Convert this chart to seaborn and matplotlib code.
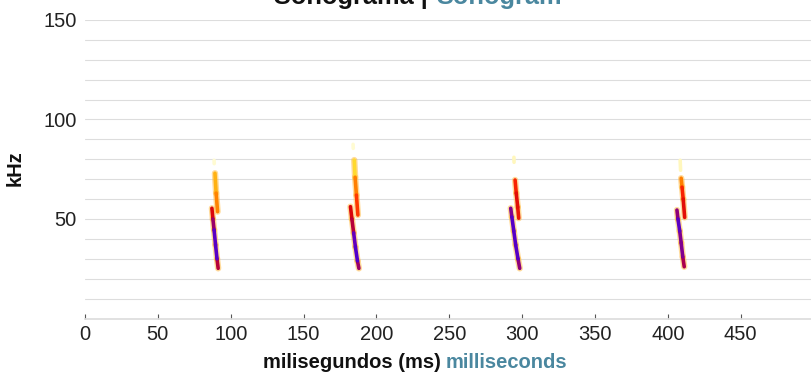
import pandas as pd
import matplotlib.pyplot as plt
import seaborn as sns
from matplotlib.colors import LinearSegmentedColormap

# trazos del sonograma: punto a punto (segmento, ms, kHz, nivel 0=débil .. 1=fuerte)
seg_id = (['c1t'] * 2 + ['c1h'] * 3 + ['c1f'] * 6 +
          ['c2t'] * 2 + ['c2h'] * 4 + ['c2f'] * 6 +
          ['c3t'] * 2 + ['c3h'] * 4 + ['c3f'] * 6 +
          ['c4t'] * 2 + ['c4h'] * 4 + ['c4f'] * 6)
seg_ms = [88.6, 88.7, 89.2, 90.0, 91.0, 87.1, 87.8, 88.6, 89.6, 90.6, 91.4,
          184.0, 184.1, 184.8, 185.4, 186.3, 187.3, 182.2, 183.2, 184.4, 185.6, 187.0, 188.0,
          294.4, 294.5, 295.2, 296.0, 297.0, 297.7, 292.2, 293.0, 294.3, 295.6, 297.2, 298.4,
          408.5, 408.8, 409.2, 409.8, 410.6, 411.6, 406.3, 407.0, 408.2, 409.2, 410.3, 411.3]
seg_khz = [79.5, 77.8, 73.0, 63.0, 53.7, 55.4, 50.0, 44.5, 37.0, 30.0, 25.2,
           87.5, 85.5, 79.6, 71.0, 62.0, 52.0, 56.2, 50.0, 43.0, 36.0, 29.0, 25.2,
           81.0, 78.5, 69.6, 63.0, 56.0, 50.4, 55.4, 51.0, 44.0, 37.0, 30.0, 25.2,
           79.5, 74.5, 70.5, 66.0, 60.0, 50.8, 54.5, 50.0, 44.0, 38.0, 31.0, 26.0]
seg_lvl = [0.0, 0.0, 0.2, 0.3, 0.38, 0.6, 0.65, 0.85, 0.95, 0.9, 0.5,
           0.0, 0.0, 0.08, 0.25, 0.45, 0.5, 0.62, 0.65, 0.75, 0.95, 0.95, 0.55,
           0.02, 0.02, 0.45, 0.6, 0.6, 0.55, 0.7, 0.9, 0.95, 0.9, 0.95, 0.6,
           0.02, 0.02, 0.25, 0.45, 0.6, 0.6, 0.65, 0.9, 0.9, 0.7, 0.9, 0.55]

x_ticks = list(range(0, 500, 50))
y_ticks = [50, 100, 150]
y_minor = [10, 20, 30, 40, 60, 70, 80, 90, 110, 120, 130, 140]

TEAL = '#4a879f'

df = pd.DataFrame({'seg': seg_id, 'ms': seg_ms, 'khz': seg_khz, 'lvl': seg_lvl})

# cada par de puntos consecutivos -> un tramo con su propio color
rows = []
piece = 0
for s, g in df.groupby('seg', sort=False):
    g = g.reset_index(drop=True)
    for i in range(len(g) - 1):
        lv = (g.lvl[i] + g.lvl[i + 1]) / 2
        rows.append((piece, g.ms[i], g.khz[i], lv))
        rows.append((piece, g.ms[i + 1], g.khz[i + 1], lv))
        piece += 1
pieces = pd.DataFrame(rows, columns=['piece', 'ms', 'khz', 'lvl'])

cmap = LinearSegmentedColormap.from_list('sono', [
    (0.0, '#fffbd2'), (0.15, '#ffe033'), (0.3, '#ff9a00'), (0.5, '#ff2a00'),
    (0.65, '#d4000c'), (0.85, '#6400bc'), (1.0, '#4800d0')])

sns.set_theme(style='white')
plt.rcParams['font.family'] = ['Liberation Sans', 'DejaVu Sans']

fig = plt.figure(figsize=(8.12, 3.75), dpi=100)
ax = fig.add_axes([85 / 812, 56.5 / 375, 727 / 812, 298.5 / 375])

# halo amarillo alrededor de los trazos
sns.lineplot(data=pieces[pieces.lvl > 0.1], x='ms', y='khz', units='piece',
             estimator=None, sort=False, color='#ffb838', alpha=0.5, lw=4.6,
             solid_capstyle='round', legend=False, ax=ax)
sns.lineplot(data=pieces, x='ms', y='khz', hue='lvl', palette=cmap, hue_norm=(0, 1),
             units='piece', estimator=None, sort=False, lw=2.6,
             solid_capstyle='round', legend=False, ax=ax)

ax.set_xlim(0, 499)
ax.set_ylim(0, 150)
ax.set_xticks(x_ticks)
ax.set_yticks(y_ticks)
ax.set_yticks(y_minor, minor=True)
ax.set_axisbelow(True)
ax.grid(axis='y', which='both', color='#dddddd', lw=0.8)
ax.tick_params(axis='y', which='both', length=0, labelsize=14.5, pad=5.8, colors='#222222')
ax.tick_params(axis='x', direction='in', length=3.6, width=0.8, color='#555555',
               labelsize=14.5, pad=4.7, labelcolor='#222222', bottom=True)
for side in ['top', 'right', 'left']:
    ax.spines[side].set_visible(False)
ax.spines['bottom'].set_color('#dddddd')
ax.set_xlabel('')
ax.set_ylabel('')

# títulos en dos colores
fig.text(428 / 812, 1 - 4 / 375, 'Sonograma |', ha='right', va='baseline',
         fontsize=18.3, fontweight='bold', color='#111111')
fig.text(436 / 812, 1 - 4 / 375, 'Sonogram', ha='left', va='baseline',
         fontsize=18.3, fontweight='bold', color=TEAL)
fig.text(441 / 812, 1 - 368 / 375, 'milisegundos (ms)', ha='right', va='baseline',
         fontsize=14.5, fontweight='bold', color='#111111')
fig.text(446 / 812, 1 - 368 / 375, 'milliseconds', ha='left', va='baseline',
         fontsize=14.5, fontweight='bold', color=TEAL)
fig.text(15 / 812, 1 - 168 / 375, 'kHz', ha='center', va='center', rotation=90,
         fontsize=14.5, fontweight='bold', color='#111111')

fig.savefig('out.png', dpi=100)
